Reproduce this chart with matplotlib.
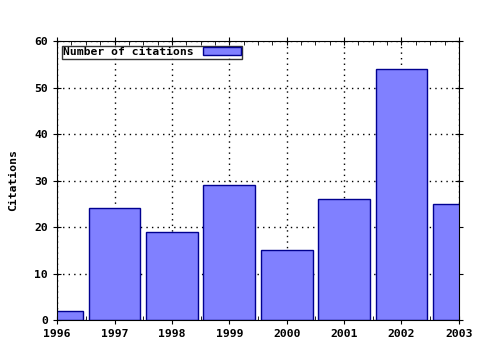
import matplotlib
matplotlib.use('Agg')
import matplotlib.pyplot as plt
from matplotlib.ticker import MultipleLocator, AutoMinorLocator

# citations per year
years = [1996, 1997, 1998, 1999, 2000, 2001, 2002, 2003]
citations = [2, 24, 19, 29, 15, 26, 54, 25]

plt.rcParams['font.family'] = 'DejaVu Sans Mono'
plt.rcParams['font.weight'] = 'bold'
plt.rcParams['font.size'] = 8.2

fig = plt.figure(figsize=(4.8, 3.5), dpi=100)
ax = fig.add_axes([0.119, 0.0857, 0.837, 0.797])

ax.bar(years, citations, width=0.9, color='#8080ff', edgecolor='#000090',
       linewidth=1, label='Number of citations', zorder=2)

ax.set_xlim(1996, 2003)
ax.set_ylim(0, 60)
ax.yaxis.set_major_locator(MultipleLocator(10))
ax.xaxis.set_minor_locator(AutoMinorLocator(4))
ax.set_xticks(years)
ax.set_xticklabels([str(y) for y in years], fontweight='bold')
ax.grid(True, which='major', linestyle=(0, (1, 3)), color='black', linewidth=1, zorder=1)
ax.set_axisbelow(True)
ax.tick_params(which='both', direction='inout', top=True, right=True, length=6)
ax.tick_params(which='minor', direction='in', length=3)

ax.set_ylabel('Citations', fontweight='bold', labelpad=12)

leg = ax.legend(loc='upper left', frameon=True, fancybox=False, edgecolor='black',
                borderpad=0.15, handlelength=3.3, handleheight=0.7, handletextpad=0.8,
                borderaxespad=0.4, markerfirst=False)
leg.get_frame().set_linewidth(1)

fig.savefig('out.png', dpi=100)
